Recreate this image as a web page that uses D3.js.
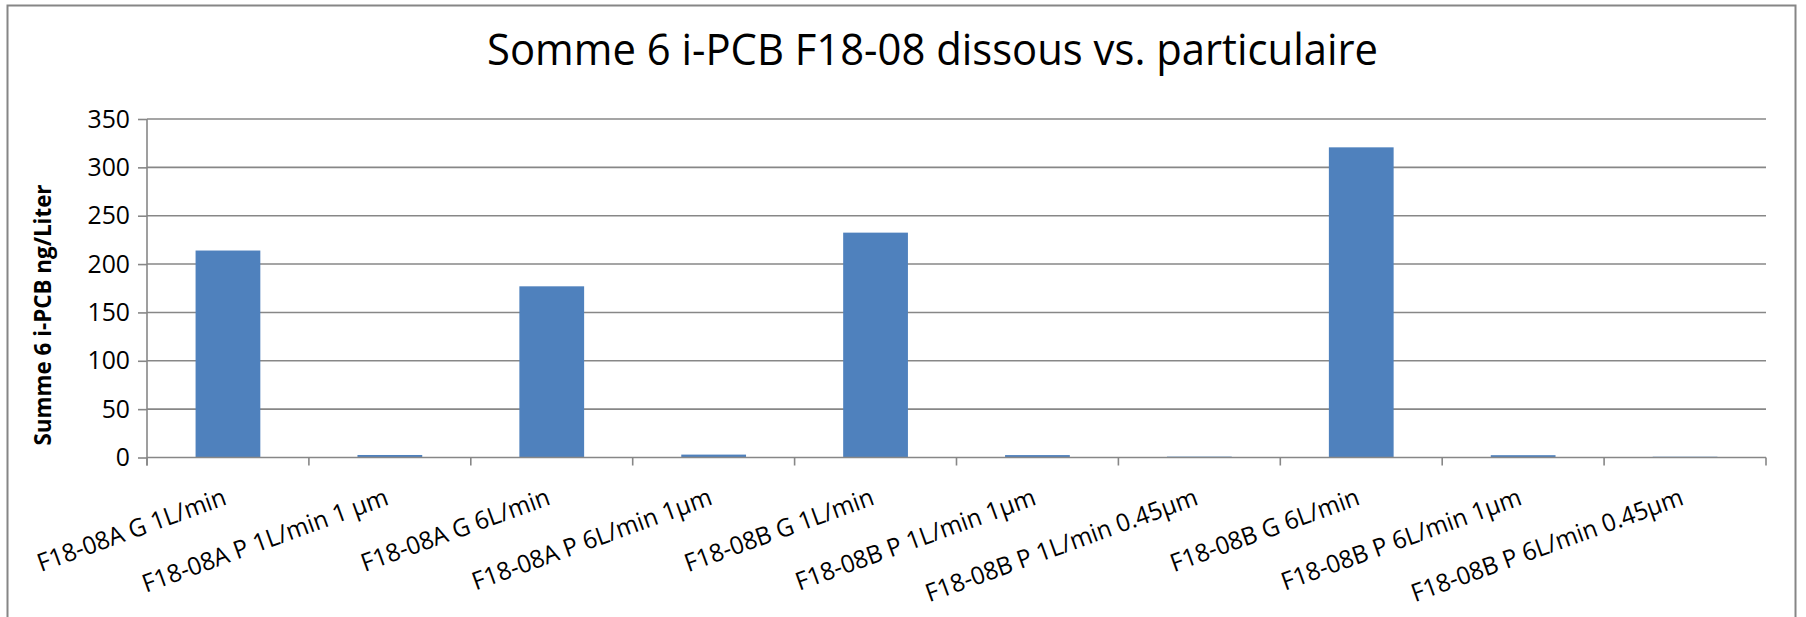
<!DOCTYPE html>
<html>
<head>
<meta charset="utf-8">
<script src="https://cdn.jsdelivr.net/npm/d3@7"></script>
<style>
  html, body { margin: 0; padding: 0; background: #ffffff; }
  svg { display: block; }
  text { font-family: "Open Sans", "Noto Sans", sans-serif; fill: #000; }
</style>
</head>
<body>
<svg id="chart" width="1806" height="617"></svg>
<script>
// ---- data ----
const categories = [
  "F18-08A G 1L/min",
  "F18-08A P 1L/min 1 µm",
  "F18-08A G 6L/min",
  "F18-08A P 6L/min 1µm",
  "F18-08B G 1L/min",
  "F18-08B P 1L/min 1µm",
  "F18-08B P 1L/min 0.45µm",
  "F18-08B G 6L/min",
  "F18-08B P 6L/min 1µm",
  "F18-08B P 6L/min 0.45µm"
];
const values = [214, 2.6, 177, 3.0, 232.5, 2.5, 0.9, 320.7, 2.4, 0.8];
const yTicks = [0, 50, 100, 150, 200, 250, 300, 350];
const titleText = "Somme 6 i-PCB F18-08 dissous vs. particulaire";
const yTitleText = "Summe 6 i-PCB ng/Liter";

// ---- layout ----
const plot = { left: 147, right: 1766, top: 119, bottom: 457.5 };
const gridColor = "#878787";
const barColor = "#4F81BD";

const svg = d3.select("#chart");

// outer chart border
svg.append("rect")
  .attr("x", 7.5).attr("y", 5.5)
  .attr("width", 1788).attr("height", 640)
  .attr("fill", "#fff").attr("stroke", "#868686").attr("stroke-width", 2);

const x = d3.scaleBand().domain(categories).range([plot.left, plot.right]).paddingInner(0.6).paddingOuter(0.3);
const xBand = d3.scaleBand().domain(categories).range([plot.left, plot.right]).padding(0);
const y = d3.scaleLinear().domain([0, 350]).range([plot.bottom, plot.top]);

// gridlines
svg.append("g").selectAll("line").data(yTicks.filter(d => d > 0)).join("line")
  .attr("x1", plot.left).attr("x2", plot.right)
  .attr("y1", d => y(d)).attr("y2", d => y(d))
  .attr("stroke", gridColor).attr("stroke-width", 1.6);

// bars
svg.append("g").selectAll("rect").data(values).join("rect")
  .attr("x", (d, i) => x(categories[i]))
  .attr("width", x.bandwidth())
  .attr("y", d => y(d))
  .attr("height", d => y(0) - y(d))
  .attr("fill", barColor);

// y axis
const yAxis = d3.axisLeft(y).tickValues(yTicks).tickSize(9).tickPadding(8).tickFormat(d3.format("d"));
const gy = svg.append("g").attr("transform", `translate(${plot.left},0)`).call(yAxis);
gy.select(".domain").remove();
gy.selectAll(".tick line").attr("stroke", gridColor).attr("stroke-width", 1.6);
gy.selectAll(".tick text").attr("font-size", 25.5).attr("font-family", "'Open Sans', sans-serif").attr("fill", "#000");
gy.append("line").attr("x1", 0).attr("x2", 0).attr("y1", plot.top).attr("y2", plot.bottom + 8)
  .attr("stroke", gridColor).attr("stroke-width", 1.6);

// x axis
const boundaries = categories.map(c => xBand(c)).concat([plot.right]);
const gx = svg.append("g");
gx.append("line").attr("x1", plot.left).attr("x2", plot.right).attr("y1", plot.bottom).attr("y2", plot.bottom)
  .attr("stroke", gridColor).attr("stroke-width", 1.6);
gx.selectAll("line.tk").data(boundaries).join("line").attr("class", "tk")
  .attr("x1", d => d).attr("x2", d => d).attr("y1", plot.bottom).attr("y2", plot.bottom + 8)
  .attr("stroke", gridColor).attr("stroke-width", 1.6);

const xLabels = gx.selectAll("text.xl").data(categories).join("text").attr("class", "xl")
  .attr("transform", d => `translate(${xBand(d) + xBand.bandwidth() / 2},504) rotate(-20)`)
  .attr("text-anchor", "end")
  .attr("font-size", 24.8)
  .text(d => d);

// title
const title = svg.append("text")
  .attr("x", 932.5).attr("y", 65)
  .attr("text-anchor", "middle")
  .attr("font-size", 43)
  .text(titleText);

// y title
const yTitle = svg.append("text")
  .attr("transform", `translate(51,315) rotate(-90)`)
  .attr("text-anchor", "middle")
  .attr("font-size", 24)
  .attr("font-weight", "bold")
  .text(yTitleText);

// fit glyph widths to the narrower reference face
const fit = 891 / title.node().getComputedTextLength();
function squeeze(sel, k) {
  sel.each(function () {
    const len = this.getComputedTextLength();
    d3.select(this).attr("textLength", len * k).attr("lengthAdjust", "spacingAndGlyphs");
  });
}
squeeze(title, fit);
squeeze(yTitle, fit * 0.96);
squeeze(xLabels, fit);
squeeze(gy.selectAll(".tick text"), fit);
</script>
</body>
</html>
